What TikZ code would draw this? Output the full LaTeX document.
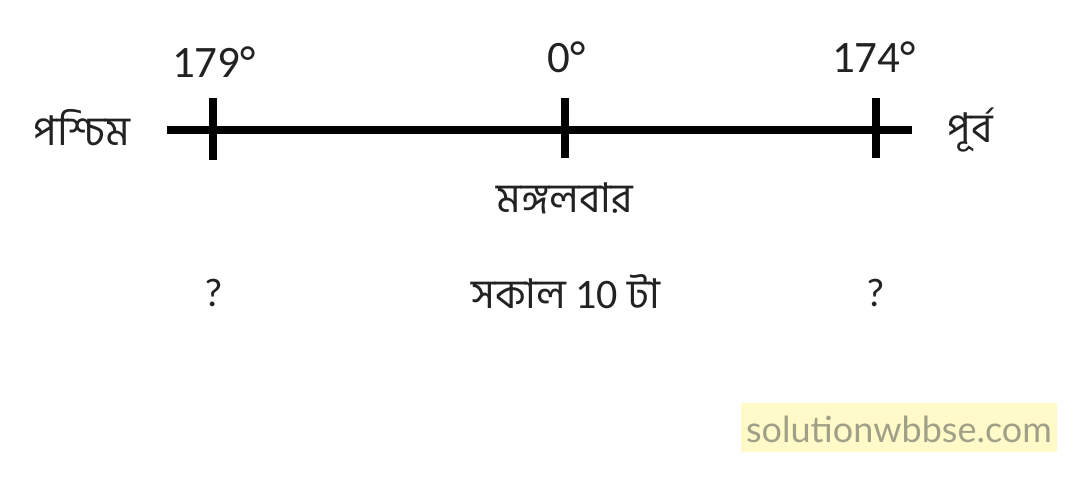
\documentclass[tikz,border=0pt]{standalone}
\usepackage{fontspec}
\setmainfont{Carlito}
\newfontfamily\bnfont[Script=Bengali]{Hind Siliguri}
\newfontfamily\wmfont{Lato}
\definecolor{txt}{HTML}{222222}
\definecolor{wmfill}{HTML}{FFFAC8}
\definecolor{wmtext}{HTML}{A0A088}
\tikzset{
  axisline/.style={line width=8pt, black},
  tickline/.style={line width=8pt, black},
  deg/.style={font=\fontsize{45}{50}\selectfont, text=txt, inner sep=0pt},
  bn/.style={font=\bnfont\fontsize{41}{46}\selectfont, text=txt, inner sep=0pt},
  qs/.style={font=\fontsize{40}{44}\selectfont, text=txt, inner sep=0pt},
}
\begin{document}
\begin{tikzpicture}[x=1pt,y=-1pt]
\useasboundingbox (0,0) rectangle (1075,481);
% axis
\coordinate (L) at (167,130);
\coordinate (R) at (912,130);
\draw[axisline] (L) -- (R);
\coordinate (t1a) at (213,98); \coordinate (t1b) at (213,160);
\coordinate (t2a) at (565,98); \coordinate (t2b) at (565,158);
\coordinate (t3a) at (876,98); \coordinate (t3b) at (876,158);
\draw[tickline] (t1a) -- (t1b);
\draw[tickline] (t2a) -- (t2b);
\draw[tickline] (t3a) -- (t3b);
% degree labels
\node[deg] (d1) at (214,62) {179°};
\node[deg] (d2) at (567,57) {0°};
\node[deg] (d3) at (874,57) {174°};
% direction labels
\node[bn] (w) at (82,128) {পশ্চিম};
\node[bn] (e) at (970,130) {পূর্ব};
% day
\node[bn] (day) at (565,198) {মঙ্গলবার};
% times
\node[qs] (q1) at (214,293) {?};
\node[bn] (tm) at (566,292) {সকাল {\fontspec{Carlito}\fontsize{42}{46}\selectfont 10} টা};
\node[qs] (q3) at (876,293) {?};
% watermark
\fill[wmfill] (741,403) rectangle (1057,452);
\node[font=\wmfont\fontsize{36}{40}\selectfont, text=wmtext, inner sep=0pt] (wm) at (899,429) {solutionwbbse.com};
\end{tikzpicture}
\end{document}
